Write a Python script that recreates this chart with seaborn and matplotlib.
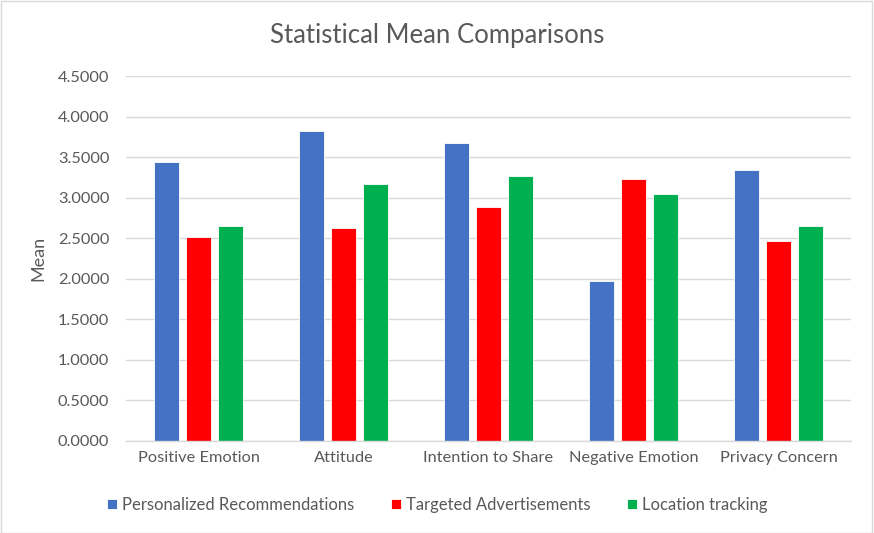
import matplotlib
matplotlib.use("Agg")
import matplotlib.pyplot as plt
import seaborn as sns
import pandas as pd
from matplotlib.patches import Rectangle
from matplotlib.ticker import FormatStrFormatter

categories = ["Positive Emotion", "Attitude", "Intention to Share", "Negative Emotion", "Privacy Concern"]
series = ["Personalized Recommendations", "Targeted Advertisements", "Location tracking"]
personalized = [3.44, 3.82, 3.67, 1.97, 3.34]
targeted = [2.51, 2.63, 2.89, 3.23, 2.47]
location = [2.65, 3.17, 3.27, 3.04, 2.65]
colors = ["#4472C4", "#FF0000", "#00B050"]
yticks = [0, 0.5, 1.0, 1.5, 2.0, 2.5, 3.0, 3.5, 4.0, 4.5]

rows = []
for s, vals in zip(series, [personalized, targeted, location]):
    for c, v in zip(categories, vals):
        rows.append({"Category": c, "Series": s, "Mean": v})
df = pd.DataFrame(rows)

sns.set_theme(style="white")
plt.rcParams["font.family"] = ["Lato", "DejaVu Sans"]

fig = plt.figure(figsize=(8.74, 5.33), dpi=100)
ax = fig.add_axes([126/874, 92/533, 725/874, 365/533])

sns.barplot(data=df, x="Category", y="Mean", hue="Series", order=categories,
            hue_order=series, palette=colors, saturation=1, width=0.66, gap=0.22,
            edgecolor="white", linewidth=0.6, ax=ax, legend=True)

ax.set_ylim(0, 4.5)
ax.set_yticks(yticks)
ax.yaxis.set_major_formatter(FormatStrFormatter("%.4f"))
ax.grid(axis="y", color="#d9d9d9", linewidth=1)
ax.set_axisbelow(True)
for side in ["top", "right", "left"]:
    ax.spines[side].set_visible(False)
ax.spines["bottom"].set_color("#d9d9d9")
ax.spines["bottom"].set_linewidth(1)
ax.tick_params(axis="both", length=0, colors="#595959", labelsize=11.8)
ax.tick_params(axis="x", pad=7)
ax.tick_params(axis="y", pad=12)
ax.set_xlabel("")
ax.set_ylabel("Mean", fontsize=13, color="#595959", labelpad=8)

fig.text(0.5, 1 - 35/533, "Statistical Mean Comparisons", ha="center", va="center",
         fontsize=18.5, color="#595959")

handles, labels = ax.get_legend_handles_labels()
ax.legend_.remove()
fig.legend(handles, labels, loc="center", bbox_to_anchor=(0.5, 1 - 505/533), ncol=3,
           frameon=False, fontsize=12, labelcolor="#595959", handlelength=0.6,
           handleheight=0.6, handletextpad=0.3, columnspacing=2.2)

fig.patches.append(Rectangle((0.5/874, 0.5/533), 1 - 3/874, 1 - 1/533, transform=fig.transFigure,
                             fill=False, edgecolor="#d9d9d9", linewidth=1))

fig.savefig("out.png", dpi=100)
